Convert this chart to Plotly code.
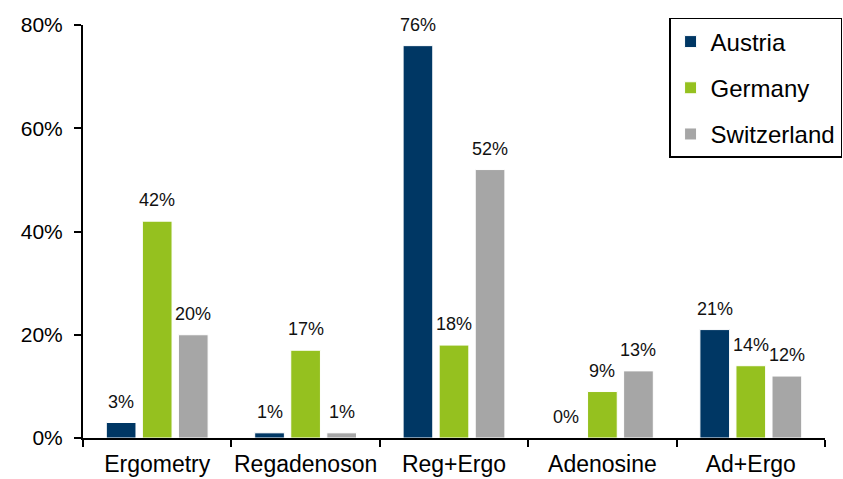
import plotly.graph_objects as go

categories = ["Ergometry", "Regadenoson", "Reg+Ergo", "Adenosine", "Ad+Ergo"]
austria = [3, 1, 76, 0, 21]
germany = [42, 17, 18, 9, 14]
switzerland = [20, 1, 52, 13, 12]
series_names = ["Austria", "Germany", "Switzerland"]
colors = ["#003764", "#95C11F", "#A6A6A6"]
y_ticks = [0, 20, 40, 60, 80]

bar_w = 0.2
offsets = [-0.243, 0.0, 0.243]

fig = go.Figure()
annotations = []
for name, vals, col, off in zip(series_names, [austria, germany, switzerland], colors, offsets):
    fig.add_trace(go.Bar(
        x=categories, y=vals, name=name, legendgroup=name,
        width=bar_w, offset=off - bar_w / 2,
        marker=dict(color=col, line=dict(color="white", width=1)),
    ))
    for i, v in enumerate(vals):
        annotations.append(dict(
            x=i + off, y=v, xref="x", yref="y", text=f"{v}%",
            showarrow=False, yanchor="bottom", yshift=9,
            font=dict(family="Liberation Sans, Arial", size=18, color="#111111"),
        ))

fig.update_layout(
    width=843, height=479,
    margin=dict(l=83, r=18, t=25, b=41, autoexpand=False),
    plot_bgcolor="white", paper_bgcolor="white",
    barmode="group",
    font=dict(family="Liberation Sans, Arial", size=21, color="black"),
    showlegend=True,
    legend=dict(
        x=1.023, y=1.017, xanchor="right", yanchor="top",
        bordercolor="black", borderwidth=1.5, bgcolor="white",
        font=dict(size=24), tracegroupgap=12,
    ),
    annotations=annotations,
    xaxis=dict(
        range=[-0.5, 4.5],
        showline=True, linecolor="black", linewidth=2,
        ticks="outside", tickson="boundaries", ticklen=7, tickwidth=2, tickcolor="black",
        tickfont=dict(size=23), ticklabelstandoff=4, tickangle=0, automargin=False,
    ),
    yaxis=dict(
        range=[0, 80], tickvals=y_ticks, ticktext=[f"{t}%" for t in y_ticks],
        showline=True, linecolor="black", linewidth=2,
        ticks="outside", ticklen=7, tickwidth=2, tickcolor="black",
        showgrid=False, zeroline=False, tickfont=dict(size=21), ticklabelstandoff=7,
        automargin=False,
    ),
)

fig.write_html("out.html")
